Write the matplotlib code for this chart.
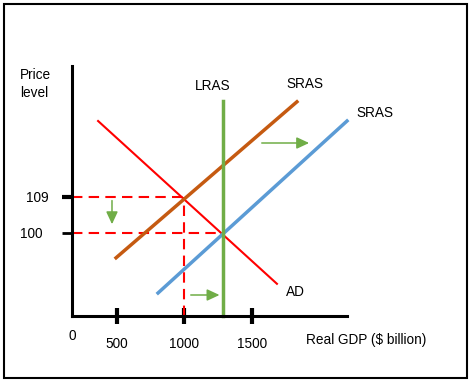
import matplotlib.pyplot as plt
from matplotlib.patches import Rectangle

# curve end points (GDP $ billion, price level)
ad_x = [360, 1685]
ad_y = [128, 87.3]
sras1_x = [493, 1833]
sras1_y = [93.8, 132.8]
sras2_x = [804, 2204]
sras2_y = [85, 128]
lras_x = [1285, 1285]
lras_y = [79.25, 133]

# equilibrium levels
p_old, p_new = 109, 100
y_old, y_new = 1000, 1285

x_ticks = [500, 1000, 1500]
x_ticklabels = ['500', '1000', '1500']
y_ticks = [100, 109]
y_ticklabels = ['100', '109']

W, H = 474, 381
plt.rcParams['font.family'] = ['Liberation Sans', 'DejaVu Sans']
fig = plt.figure(figsize=(W / 100, H / 100), dpi=100)
fig.patches.append(Rectangle((4 / W, 3 / H), 463 / W, 374 / H, transform=fig.transFigure,
                             fill=False, edgecolor='black', linewidth=1.5))

ax = fig.add_axes([72 / W, (H - 316) / H, (347 - 72) / W, (316 - 66) / H])
ax.set_xlim(166.7, 2204)
ax.set_ylim(79.25, 141.75)
for s in ['top', 'right']:
    ax.spines[s].set_visible(False)
for s in ['left', 'bottom']:
    ax.spines[s].set_linewidth(2.2)

fs = 9.8
ax.set_xticks(x_ticks)
ax.set_xticklabels(x_ticklabels, fontsize=fs)
ax.set_yticks(y_ticks)
ax.set_yticklabels(y_ticklabels, fontsize=fs)
ax.tick_params(axis='x', direction='inout', length=12, width=3, pad=9)
ax.tick_params(axis='y', direction='out', length=7, width=2, pad=10)
ax.yaxis.get_major_ticks()[1].tick1line.set_markeredgewidth(3)
ax.yaxis.get_major_ticks()[0].label1.set_x(-0.02)

red = '#ff0000'
# dashed guides
ax.plot([166.7, y_old], [p_old, p_old], color=red, ls=(0, (5, 3)), lw=1.5)
ax.plot([y_old, y_old], [79.25, p_old], color=red, ls=(0, (5, 3)), lw=1.5)
ax.plot([166.7, y_new], [p_new, p_new], color=red, ls=(0, (5, 3)), lw=1.5)

ax.plot(ad_x, ad_y, color=red, lw=1.5)
ax.plot(sras1_x, sras1_y, color='#c55a11', lw=2.5, clip_on=False)
ax.plot(sras2_x, sras2_y, color='#5b9bd5', lw=2.5, clip_on=False)
ax.plot(lras_x, lras_y, color='#70ad47', lw=2.5, clip_on=False)

green = '#70ad47'
arr = dict(arrowstyle='-|>,head_length=0.75,head_width=0.35', color=green, lw=1.1)
ax.annotate('', xy=(463, 101.5), xytext=(463, 108.8), arrowprops=arr)
ax.annotate('', xy=(1944, 122.5), xytext=(1552, 122.5), arrowprops=arr)
ax.annotate('', xy=(1280, 84.5), xytext=(1026, 84.5), arrowprops=arr)

ax.text(1210, 136.8, 'LRAS', fontsize=fs, ha='center', va='center')
ax.text(1890, 137.2, 'SRAS', fontsize=fs, ha='center', va='center')
ax.text(2410, 130, 'SRAS', fontsize=fs, ha='center', va='center')
ax.text(1825, 85.3, 'AD', fontsize=fs, ha='center', va='center')
ax.text(166.7, 74.2, '0', fontsize=fs, ha='center', va='center')
ax.text(1900, 73.2, 'Real GDP ($ billion)', fontsize=fs, ha='left', va='center')
fig.text(20 / W, 1 - 84 / H, 'Price\nlevel', fontsize=fs, ha='left', va='center', linespacing=1.45)

fig.savefig('out.png', dpi=100)
